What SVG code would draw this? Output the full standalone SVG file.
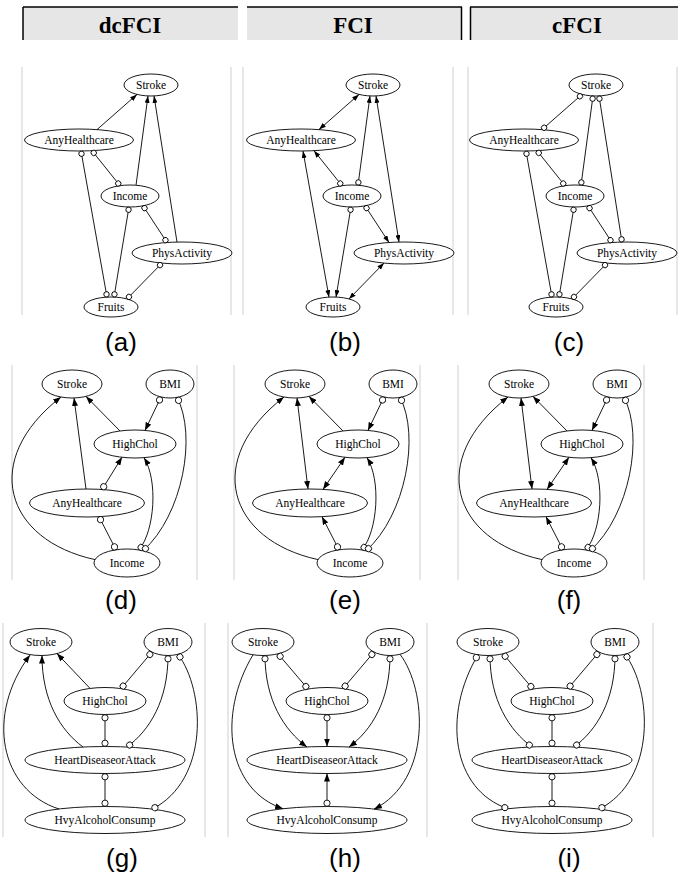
<svg xmlns="http://www.w3.org/2000/svg" width="678" height="882" viewBox="0 0 678 882">
<style>
.hdr rect{fill:#e6e6e6;stroke:none}
.hdr line{stroke:#000;stroke-width:1.5}
.hdr text{font-family:"Liberation Serif",serif;font-weight:bold;font-size:23px;text-anchor:middle;fill:#000}
.frame{stroke:#cfcfcf;stroke-width:1}
.node ellipse{fill:#fff;stroke:#000;stroke-width:0.9}
.node text{font-family:"Liberation Serif",serif;font-size:11.5px;text-anchor:middle;fill:#000}
.edges path{fill:none;stroke:#000;stroke-width:0.9}
.cap{font-family:"Liberation Sans",Arial,sans-serif;font-size:26px;text-anchor:middle;fill:#000}
</style>
<defs>
<marker id="a1" viewBox="0 0 7 5" refX="7" refY="2.5" markerWidth="7" markerHeight="5" orient="auto-start-reverse" markerUnits="userSpaceOnUse"><path d="M0,0L7,2.5L0,5z" fill="#000"/></marker>
<marker id="o1" viewBox="0 0 7 7" refX="6.3" refY="3.5" markerWidth="7" markerHeight="7" orient="auto-start-reverse" markerUnits="userSpaceOnUse"><circle cx="3.5" cy="3.5" r="2.7" fill="#fff" stroke="#000" stroke-width="0.9"/></marker>
<marker id="a2" viewBox="0 0 8 6" refX="8" refY="3" markerWidth="8" markerHeight="6" orient="auto-start-reverse" markerUnits="userSpaceOnUse"><path d="M0,0L8,3L0,6z" fill="#000"/></marker>
<marker id="o2" viewBox="0 0 8 8" refX="7.3" refY="4" markerWidth="8" markerHeight="8" orient="auto-start-reverse" markerUnits="userSpaceOnUse"><circle cx="4" cy="4" r="3.1" fill="#fff" stroke="#000" stroke-width="0.9"/></marker>
</defs>

<g id="header" class="hdr">
<rect x="23" y="7" width="215" height="33"/>
<line x1="23" y1="7" x2="238" y2="7"/><line x1="23" y1="7" x2="23" y2="40"/>
<text x="130" y="33">dcFCI</text>
<rect x="247" y="7" width="215" height="33"/>
<line x1="247" y1="7" x2="462" y2="7"/><line x1="461.5" y1="7" x2="461.5" y2="40"/>
<text x="353" y="33">FCI</text>
<rect x="470" y="7" width="208" height="33"/>
<line x1="470" y1="7" x2="678" y2="7"/><line x1="470.5" y1="7" x2="470.5" y2="40"/>
<text x="577" y="33">cFCI</text>
</g>

<!-- Row 1 -->
<g id="panel-a">
<line class="frame" x1="22" y1="67" x2="22" y2="315"/><line class="frame" x1="231" y1="67" x2="231" y2="315"/>
<g id="a-Stroke" class="node"><ellipse cx="151" cy="85" rx="27" ry="11"/><text x="151" y="89">Stroke</text></g>
<g id="a-AnyHealthcare" class="node"><ellipse cx="79" cy="140" rx="54.5" ry="11"/><text x="79" y="144">AnyHealthcare</text></g>
<g id="a-Income" class="node"><ellipse cx="130" cy="196" rx="29" ry="11"/><text x="130" y="200">Income</text></g>
<g id="a-PhysActivity" class="node"><ellipse cx="182" cy="253" rx="50" ry="11"/><text x="182" y="257">PhysActivity</text></g>
<g id="a-Fruits" class="node"><ellipse cx="111" cy="307" rx="27" ry="10"/><text x="111" y="311">Fruits</text></g>
<g class="edges" id="a-edges">
<path d="M97,129.6L137,94.4" marker-end="url(#a1)"/>
<path d="M136,185.2L148,95.9" marker-end="url(#a1)"/>
<path d="M177,242.1L154,95.9" marker-end="url(#a1)"/>
<path d="M92,150.7L120,185.7" marker-start="url(#o1)" marker-end="url(#o1)"/>
<path d="M81,151L107,297.1" marker-start="url(#o1)" marker-end="url(#o1)"/>
<path d="M129,207L114,297.1" marker-start="url(#o1)" marker-end="url(#o1)"/>
<path d="M143,205.8L167,242.5" marker-start="url(#o1)" marker-end="url(#o1)"/>
<path d="M162,263.1L127,298.9" marker-start="url(#o1)" marker-end="url(#o1)"/>
</g>
<text class="cap" x="121" y="351">(a)</text>
</g>

<g id="panel-b" transform="translate(222,0)">
<line class="frame" x1="21" y1="67" x2="21" y2="315"/><line class="frame" x1="231" y1="67" x2="231" y2="315"/>
<g id="b-Stroke" class="node"><ellipse cx="151" cy="85" rx="27" ry="11"/><text x="151" y="89">Stroke</text></g>
<g id="b-AnyHealthcare" class="node"><ellipse cx="79" cy="140" rx="54.5" ry="11"/><text x="79" y="144">AnyHealthcare</text></g>
<g id="b-Income" class="node"><ellipse cx="130" cy="196" rx="29" ry="11"/><text x="130" y="200">Income</text></g>
<g id="b-PhysActivity" class="node"><ellipse cx="182" cy="253" rx="50" ry="11"/><text x="182" y="257">PhysActivity</text></g>
<g id="b-Fruits" class="node"><ellipse cx="111" cy="307" rx="27" ry="10"/><text x="111" y="311">Fruits</text></g>
<g class="edges" id="b-edges">
<path d="M97,129.6L137,94.4" marker-start="url(#a1)" marker-end="url(#a1)"/>
<path d="M120,185.7L92,150.7" marker-start="url(#o1)" marker-end="url(#a1)"/>
<path d="M136,185.2L148,95.9" marker-start="url(#o1)" marker-end="url(#a1)"/>
<path d="M177,242.1L154,95.9" marker-start="url(#a1)" marker-end="url(#a1)"/>
<path d="M81,151L107,297.1" marker-start="url(#a1)" marker-end="url(#a1)"/>
<path d="M129,207L114,297.1" marker-start="url(#o1)" marker-end="url(#a1)"/>
<path d="M143,205.8L167,242.5" marker-start="url(#o1)" marker-end="url(#a1)"/>
<path d="M162,263.1L127,298.9" marker-start="url(#a1)" marker-end="url(#a1)"/>
</g>
<text class="cap" x="123" y="351">(b)</text>
</g>

<g id="panel-c" transform="translate(445,0)">
<line class="frame" x1="23" y1="67" x2="23" y2="315"/><line class="frame" x1="232" y1="67" x2="232" y2="315"/>
<g id="c-Stroke" class="node"><ellipse cx="151" cy="85" rx="27" ry="11"/><text x="151" y="89">Stroke</text></g>
<g id="c-AnyHealthcare" class="node"><ellipse cx="79" cy="140" rx="54.5" ry="11"/><text x="79" y="144">AnyHealthcare</text></g>
<g id="c-Income" class="node"><ellipse cx="130" cy="196" rx="29" ry="11"/><text x="130" y="200">Income</text></g>
<g id="c-PhysActivity" class="node"><ellipse cx="182" cy="253" rx="50" ry="11"/><text x="182" y="257">PhysActivity</text></g>
<g id="c-Fruits" class="node"><ellipse cx="111" cy="307" rx="27" ry="10"/><text x="111" y="311">Fruits</text></g>
<g class="edges" id="c-edges">
<path d="M97,129.6L137,94.4" marker-start="url(#o1)" marker-end="url(#o1)"/>
<path d="M136,185.2L148,95.9" marker-start="url(#o1)" marker-end="url(#o1)"/>
<path d="M177,242.1L154,95.9" marker-start="url(#o1)" marker-end="url(#o1)"/>
<path d="M92,150.7L120,185.7" marker-start="url(#o1)" marker-end="url(#o1)"/>
<path d="M81,151L107,297.1" marker-start="url(#o1)" marker-end="url(#o1)"/>
<path d="M129,207L114,297.1" marker-start="url(#o1)" marker-end="url(#o1)"/>
<path d="M143,205.8L167,242.5" marker-start="url(#o1)" marker-end="url(#o1)"/>
<path d="M162,263.1L127,298.9" marker-start="url(#o1)" marker-end="url(#o1)"/>
</g>
<text class="cap" x="124" y="351">(c)</text>
</g>

<!-- Row 2 -->
<g id="panel-d">
<line class="frame" x1="12" y1="365" x2="12" y2="580"/><line class="frame" x1="197" y1="365" x2="197" y2="580"/>
<g id="d-Stroke" class="node"><ellipse cx="72" cy="384" rx="30" ry="14"/><text x="72" y="388">Stroke</text></g>
<g id="d-BMI" class="node"><ellipse cx="170" cy="384" rx="24" ry="14"/><text x="170" y="388">BMI</text></g>
<g id="d-HighChol" class="node"><ellipse cx="135" cy="444" rx="41" ry="14"/><text x="135" y="448">HighChol</text></g>
<g id="d-AnyHealthcare" class="node"><ellipse cx="87" cy="503" rx="57.5" ry="14"/><text x="87" y="507">AnyHealthcare</text></g>
<g id="d-Income" class="node"><ellipse cx="127" cy="563" rx="33" ry="14"/><text x="127" y="567">Income</text></g>
<g class="edges" id="d-edges">
<path d="M120,431L86,396.4" marker-end="url(#a2)"/>
<path d="M86,489L74,398" marker-end="url(#a2)"/>
<path d="M95,559.6C5,540 -20,460 61,397" marker-end="url(#a2)"/>
<path d="M102,489.5L122,457.3" marker-start="url(#o2)" marker-end="url(#a2)"/>
<path d="M161,397L145,430.4" marker-start="url(#o2)" marker-end="url(#a2)"/>
<path d="M139,550C155,530 158,480 144,457.7" marker-start="url(#o2)" marker-end="url(#a2)"/>
<path d="M177,397.4C197,435 183,515 143,550.8" marker-start="url(#o2)" marker-end="url(#o2)"/>
<path d="M99,516.7L116,549.8" marker-start="url(#o2)" marker-end="url(#o2)"/>
</g>
<text class="cap" x="121" y="609">(d)</text>
</g>

<g id="panel-e" transform="translate(223,0)">
<line class="frame" x1="11" y1="365" x2="11" y2="580"/><line class="frame" x1="197" y1="365" x2="197" y2="580"/>
<g id="e-Stroke" class="node"><ellipse cx="72" cy="384" rx="30" ry="14"/><text x="72" y="388">Stroke</text></g>
<g id="e-BMI" class="node"><ellipse cx="170" cy="384" rx="24" ry="14"/><text x="170" y="388">BMI</text></g>
<g id="e-HighChol" class="node"><ellipse cx="135" cy="444" rx="41" ry="14"/><text x="135" y="448">HighChol</text></g>
<g id="e-AnyHealthcare" class="node"><ellipse cx="87" cy="503" rx="57.5" ry="14"/><text x="87" y="507">AnyHealthcare</text></g>
<g id="e-Income" class="node"><ellipse cx="127" cy="563" rx="33" ry="14"/><text x="127" y="567">Income</text></g>
<g class="edges" id="e-edges">
<path d="M120,431L86,396.4" marker-end="url(#a2)"/>
<path d="M74,398L85,489" marker-start="url(#a2)" marker-end="url(#a2)"/>
<path d="M122,457.3L100,489.4" marker-start="url(#a2)" marker-end="url(#a2)"/>
<path d="M95,559.6C5,540 -20,460 61,397" marker-end="url(#a2)"/>
<path d="M116,549.8L99,516.7" marker-start="url(#o2)" marker-end="url(#a2)"/>
<path d="M161,397L145,430.4" marker-start="url(#o2)" marker-end="url(#a2)"/>
<path d="M139,550C155,530 158,480 144,457.7" marker-start="url(#o2)" marker-end="url(#a2)"/>
<path d="M177,397.4C197,435 183,515 143,550.8" marker-start="url(#o2)" marker-end="url(#o2)"/>
</g>
<text class="cap" x="122" y="609">(e)</text>
</g>

<g id="panel-f" transform="translate(447,0)">
<line class="frame" x1="11" y1="365" x2="11" y2="580"/><line class="frame" x1="197" y1="365" x2="197" y2="580"/>
<g id="f-Stroke" class="node"><ellipse cx="72" cy="384" rx="30" ry="14"/><text x="72" y="388">Stroke</text></g>
<g id="f-BMI" class="node"><ellipse cx="170" cy="384" rx="24" ry="14"/><text x="170" y="388">BMI</text></g>
<g id="f-HighChol" class="node"><ellipse cx="135" cy="444" rx="41" ry="14"/><text x="135" y="448">HighChol</text></g>
<g id="f-AnyHealthcare" class="node"><ellipse cx="87" cy="503" rx="57.5" ry="14"/><text x="87" y="507">AnyHealthcare</text></g>
<g id="f-Income" class="node"><ellipse cx="127" cy="563" rx="33" ry="14"/><text x="127" y="567">Income</text></g>
<g class="edges" id="f-edges">
<path d="M120,431L86,396.4" marker-end="url(#a2)"/>
<path d="M74,398L85,489" marker-start="url(#a2)" marker-end="url(#a2)"/>
<path d="M122,457.3L100,489.4" marker-start="url(#a2)" marker-end="url(#a2)"/>
<path d="M95,559.6C5,540 -20,460 61,397" marker-end="url(#a2)"/>
<path d="M116,549.8L99,516.7" marker-start="url(#o2)" marker-end="url(#a2)"/>
<path d="M161,397L145,430.4" marker-start="url(#o2)" marker-end="url(#a2)"/>
<path d="M139,550C155,530 158,480 144,457.7" marker-start="url(#o2)" marker-end="url(#a2)"/>
<path d="M177,397.4C197,435 183,515 143,550.8" marker-start="url(#o2)" marker-end="url(#o2)"/>
</g>
<text class="cap" x="122" y="609">(f)</text>
</g>

<!-- Row 3 -->
<g id="panel-g">
<line class="frame" x1="3" y1="623" x2="3" y2="837"/><line class="frame" x1="205" y1="623" x2="205" y2="837"/>
<g id="g-Stroke" class="node"><ellipse cx="41" cy="642" rx="31" ry="13.5"/><text x="41" y="646">Stroke</text></g>
<g id="g-BMI" class="node"><ellipse cx="168" cy="642" rx="24" ry="13.5"/><text x="168" y="646">BMI</text></g>
<g id="g-HighChol" class="node"><ellipse cx="105" cy="701" rx="41" ry="13.5"/><text x="105" y="705">HighChol</text></g>
<g id="g-HeartDiseaseorAttack" class="node"><ellipse cx="105" cy="760" rx="80" ry="13.5"/><text x="105" y="764">HeartDiseaseorAttack</text></g>
<g id="g-HvyAlcoholConsump" class="node"><ellipse cx="105" cy="820" rx="80" ry="13.5"/><text x="105" y="824">HvyAlcoholConsump</text></g>
<g class="edges" id="g-edges">
<path d="M90,688.4L57,653.6" marker-end="url(#a2)"/>
<path d="M83,747C60,730 42,700 42,655.5" marker-end="url(#a2)"/>
<path d="M59,809C0,790 -15,715 30,655" marker-end="url(#a2)"/>
<path d="M152,652L121,688.6" marker-start="url(#o2)" marker-end="url(#o2)"/>
<path d="M168,655.5C168,700 150,730 127,747" marker-start="url(#o2)" marker-end="url(#o2)"/>
<path d="M178,654.3C205,690 210,780 152,809.2" marker-start="url(#o2)" marker-end="url(#o2)"/>
<path d="M105,714.5L105,746.5" marker-start="url(#o2)" marker-end="url(#o2)"/>
<path d="M105,773.5L105,806.5" marker-start="url(#o2)" marker-end="url(#o2)"/>
</g>
<text class="cap" x="122" y="867">(g)</text>
</g>

<g id="panel-h" transform="translate(222,0)">
<line class="frame" x1="6" y1="623" x2="6" y2="837"/><line class="frame" x1="205" y1="623" x2="205" y2="837"/>
<g id="h-Stroke" class="node"><ellipse cx="41" cy="642" rx="31" ry="13.5"/><text x="41" y="646">Stroke</text></g>
<g id="h-BMI" class="node"><ellipse cx="168" cy="642" rx="24" ry="13.5"/><text x="168" y="646">BMI</text></g>
<g id="h-HighChol" class="node"><ellipse cx="105" cy="701" rx="41" ry="13.5"/><text x="105" y="705">HighChol</text></g>
<g id="h-HeartDiseaseorAttack" class="node"><ellipse cx="105" cy="760" rx="80" ry="13.5"/><text x="105" y="764">HeartDiseaseorAttack</text></g>
<g id="h-HvyAlcoholConsump" class="node"><ellipse cx="105" cy="820" rx="80" ry="13.5"/><text x="105" y="824">HvyAlcoholConsump</text></g>
<g class="edges" id="h-edges">
<path d="M56,653.8L86,689" marker-start="url(#o2)" marker-end="url(#o2)"/>
<path d="M152,652L121,688.6" marker-start="url(#o2)" marker-end="url(#o2)"/>
<path d="M43,655.5C43,700 62,730 85,747" marker-start="url(#o2)" marker-end="url(#a2)"/>
<path d="M168,655.5C168,700 150,730 127,747" marker-start="url(#o2)" marker-end="url(#a2)"/>
<path d="M105,714.5L105,746.5" marker-start="url(#o2)" marker-end="url(#a2)"/>
<path d="M105,806.5L105,773.5" marker-start="url(#o2)" marker-end="url(#a2)"/>
<path d="M31,654.8C-5,715 5,790 61,808.7" marker-end="url(#a2)"/>
<path d="M178,654.3C205,690 210,780 152,809.2" marker-end="url(#a2)"/>
</g>
<text class="cap" x="123" y="867">(h)</text>
</g>

<g id="panel-i" transform="translate(447,0)">
<line class="frame" x1="206" y1="623" x2="206" y2="837"/>
<g id="i-Stroke" class="node"><ellipse cx="41" cy="642" rx="31" ry="13.5"/><text x="41" y="646">Stroke</text></g>
<g id="i-BMI" class="node"><ellipse cx="168" cy="642" rx="24" ry="13.5"/><text x="168" y="646">BMI</text></g>
<g id="i-HighChol" class="node"><ellipse cx="105" cy="701" rx="41" ry="13.5"/><text x="105" y="705">HighChol</text></g>
<g id="i-HeartDiseaseorAttack" class="node"><ellipse cx="105" cy="760" rx="80" ry="13.5"/><text x="105" y="764">HeartDiseaseorAttack</text></g>
<g id="i-HvyAlcoholConsump" class="node"><ellipse cx="105" cy="820" rx="80" ry="13.5"/><text x="105" y="824">HvyAlcoholConsump</text></g>
<g class="edges" id="i-edges">
<path d="M56,653.8L86,689" marker-start="url(#o2)" marker-end="url(#o2)"/>
<path d="M152,652L121,688.6" marker-start="url(#o2)" marker-end="url(#o2)"/>
<path d="M43,655.5C43,700 62,730 85,747" marker-start="url(#o2)" marker-end="url(#o2)"/>
<path d="M168,655.5C168,700 150,730 127,747" marker-start="url(#o2)" marker-end="url(#o2)"/>
<path d="M105,714.5L105,746.5" marker-start="url(#o2)" marker-end="url(#o2)"/>
<path d="M105,773.5L105,806.5" marker-start="url(#o2)" marker-end="url(#o2)"/>
<path d="M31,654.8C-5,715 5,790 61,808.7" marker-start="url(#o2)" marker-end="url(#o2)"/>
<path d="M178,654.3C205,690 210,780 152,809.2" marker-start="url(#o2)" marker-end="url(#o2)"/>
</g>
<text class="cap" x="122" y="867">(i)</text>
</g>
</svg>
